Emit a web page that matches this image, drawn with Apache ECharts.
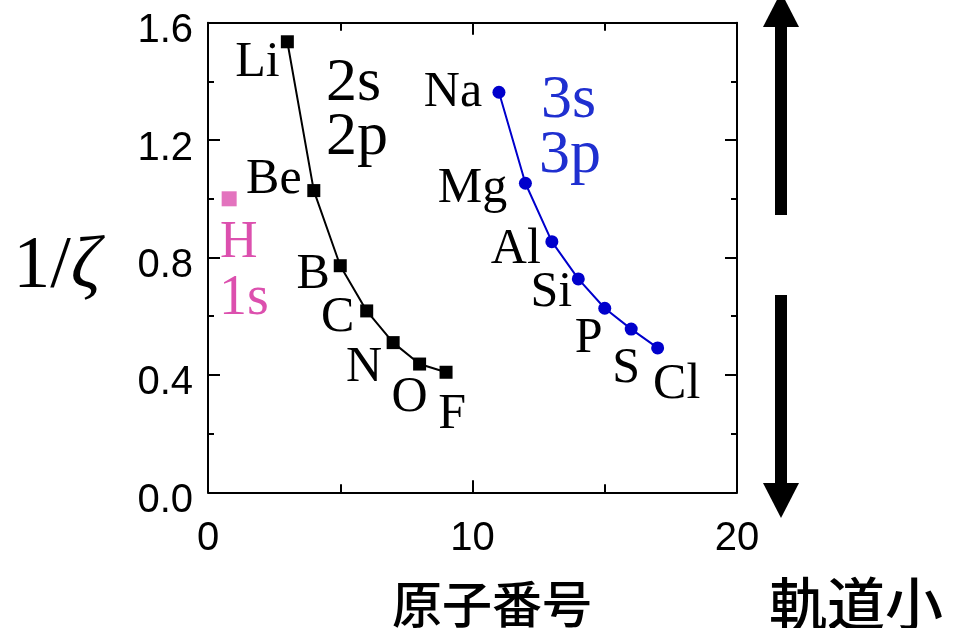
<!DOCTYPE html>
<html>
<head>
<meta charset="utf-8">
<script src="https://cdn.jsdelivr.net/npm/echarts@6/dist/echarts.min.js"></script>
<style>html,body{margin:0;padding:0;background:#fff;}#c{width:953px;height:628px;}</style>
</head>
<body>
<div id="c"></div>
<script>
// ---- data ----
const period2Names = ['Li', 'Be', 'B', 'C', 'N', 'O', 'F'];
const period2Z = [3, 4, 5, 6, 7, 8, 9];
const period2Inv = [1.535, 1.028, 0.772, 0.618, 0.510, 0.437, 0.409];

const period3Names = ['Na', 'Mg', 'Al', 'Si', 'P', 'S', 'Cl'];
const period3Z = [11, 12, 13, 14, 15, 16, 17];
const period3Inv = [1.363, 1.053, 0.854, 0.727, 0.627, 0.556, 0.492];

const hydrogenZ = [0.8];
const hydrogenInv = [1.0];

const xTicks = [0, 10, 20];
const yTicks = [0.0, 0.4, 0.8, 1.2, 1.6];

// ---- label offsets (styling, relative to each point) ----
const labelOffsets2 = [[-30, 21], [-40, -11], [-27, 9], [-29, 7], [-29, 25], [-10, 34], [6, 43]];
const labelOffsets3 = [[-46, 1], [-53, 6], [-36, 8], [-27, 14], [-16, 31], [-5, 40], [19, 37]];

const SERIF = 'Liberation Serif, Times New Roman, serif';
const SANS = 'Liberation Sans, Arial, sans-serif';
const CJK = '"Noto Sans CJK JP Medium", "Noto Sans CJK JP", sans-serif';
const BLUE = '#0000cc';
const BLUE_TXT = '#1f2fd0';
const PINK = '#dc50ae';

function buildData(zs, vals, names, offs) {
  return zs.map((z, i) => ({
    name: names[i],
    value: [z, vals[i]],
    label: { offset: offs[i] }
  }));
}

const chart = echarts.init(document.getElementById('c'), null, { renderer: 'canvas' });

const axisCommonX = {
  type: 'value', min: xTicks[0], max: xTicks[xTicks.length - 1], interval: 10,
  axisLine: { onZero: false, lineStyle: { color: '#000', width: 2 } },
  axisTick: { inside: true, length: 12, lineStyle: { color: '#000', width: 2 } },
  minorTick: { show: true, splitNumber: 2, length: 8, lineStyle: { color: '#000', width: 2 } },
  splitLine: { show: false }, minorSplitLine: { show: false }
};
const axisCommonY = {
  type: 'value', min: yTicks[0], max: yTicks[yTicks.length - 1], interval: 0.4,
  axisLine: { onZero: false, lineStyle: { color: '#000', width: 2 } },
  axisTick: { inside: true, length: 12, lineStyle: { color: '#000', width: 2 } },
  minorTick: { show: true, splitNumber: 2, length: 6, lineStyle: { color: '#000', width: 2 } },
  splitLine: { show: false }, minorSplitLine: { show: false }
};

const option = {
  animation: false,
  backgroundColor: '#fff',
  grid: { left: 208, right: 216, top: 22.7, bottom: 135.7, containLabel: false },
  xAxis: [
    Object.assign({}, axisCommonX, {
      position: 'bottom',
      axisLabel: { fontSize: 40, fontFamily: SANS, color: '#000', margin: 27,
        formatter: v => String(v) }
    }),
    Object.assign({}, axisCommonX, { position: 'top', axisLabel: { show: false } })
  ],
  yAxis: [
    Object.assign({}, axisCommonY, {
      position: 'left',
      axisLabel: { fontSize: 40, fontFamily: SANS, color: '#000', margin: 15,
        verticalAlign: 'top', lineHeight: 17, formatter: v => v.toFixed(1) }
    }),
    Object.assign({}, axisCommonY, { position: 'right', axisLabel: { show: false } })
  ],
  series: [
    {
      type: 'line', name: 'period2',
      data: buildData(period2Z, period2Inv, period2Names, labelOffsets2),
      symbol: 'rect', symbolSize: 13,
      lineStyle: { color: '#000', width: 2 },
      itemStyle: { color: '#000' },
      label: { show: true, position: 'inside', formatter: '{b}', fontFamily: SERIF,
        fontSize: 50, color: '#000', align: 'center', verticalAlign: 'middle' },
      z: 3
    },
    {
      type: 'line', name: 'period3',
      data: buildData(period3Z, period3Inv, period3Names, labelOffsets3),
      symbol: 'circle', symbolSize: 13,
      lineStyle: { color: BLUE, width: 2 },
      itemStyle: { color: BLUE },
      label: { show: true, position: 'inside', formatter: '{b}', fontFamily: SERIF,
        fontSize: 50, color: '#000', align: 'center', verticalAlign: 'middle' },
      z: 3
    },
    {
      type: 'scatter', name: 'H',
      data: hydrogenZ.map((z, i) => [z, hydrogenInv[i]]),
      symbol: 'rect', symbolSize: 15,
      itemStyle: { color: PINK }
    }
  ],
  graphic: [
    { type: 'text', x: 326, y: 84, style: { text: '2s', font: '62px ' + SERIF, fill: '#000', align: 'left', verticalAlign: 'middle' } },
    { type: 'text', x: 326, y: 137.5, style: { text: '2p', font: '62px ' + SERIF, fill: '#000', align: 'left', verticalAlign: 'middle' } },
    { type: 'text', x: 541, y: 101, style: { text: '3s', font: '62px ' + SERIF, fill: BLUE_TXT, align: 'left', verticalAlign: 'middle' } },
    { type: 'text', x: 539, y: 156, style: { text: '3p', font: '62px ' + SERIF, fill: BLUE_TXT, align: 'left', verticalAlign: 'middle' } },
    { type: 'text', x: 220, y: 243, style: { text: 'H', font: '52px ' + SERIF, fill: PINK, align: 'left', verticalAlign: 'middle' } },
    { type: 'text', x: 219, y: 299, style: { text: '1s', font: '56px ' + SERIF, fill: PINK, align: 'left', verticalAlign: 'middle' } },
    { type: 'text', x: 57, y: 268, style: {
        text: '{a|1/}{b|ζ}', align: 'center', verticalAlign: 'middle',
        rich: {
          a: { fontFamily: SERIF, fontSize: 74, color: '#000' },
          b: { fontFamily: SERIF, fontSize: 74, fontStyle: 'italic', color: '#000' }
        } } },
    { type: 'text', x: 492, y: 604, style: { text: '原子番号', font: '50px ' + CJK, fill: '#000', align: 'center', verticalAlign: 'middle' } },
    { type: 'text', x: 856, y: 604, style: { text: '軌道小', font: '58px ' + CJK, fill: '#000', align: 'center', verticalAlign: 'middle' } },
    // double arrow
    { type: 'rect', shape: { x: 775, y: 26, width: 12, height: 189 }, style: { fill: '#000' } },
    { type: 'polygon', shape: { points: [[781, -8], [799, 27], [763, 27]] }, style: { fill: '#000' } },
    { type: 'rect', shape: { x: 775, y: 295, width: 12, height: 189 }, style: { fill: '#000' } },
    { type: 'polygon', shape: { points: [[763, 483], [799, 483], [781, 518]] }, style: { fill: '#000' } }
  ]
};

chart.setOption(option);
</script>
</body>
</html>
